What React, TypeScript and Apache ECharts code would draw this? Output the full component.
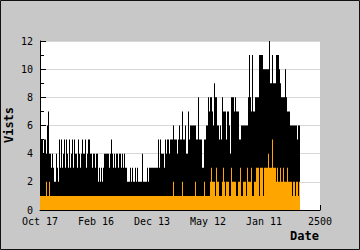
import React, { useEffect, useRef } from "react";
import * as echarts from "echarts";

// One value per 1-px bin of the x axis (bin 0 .. 259)
const totalVisits: number[] = [
  5,
  5, 5, 4, 5, 5, 4, 6, 7, 4, 4,
  3, 4, 3, 2, 2, 4, 3, 2, 5, 3,
  5, 3, 4, 5, 3, 5, 4, 3, 5, 3,
  4, 5, 3, 5, 4, 4, 3, 5, 4, 3,
  4, 5, 4, 4, 5, 3, 4, 5, 5, 4,
  4, 3, 4, 4, 3, 4, 4, 2, 3, 2,
  3, 2, 3, 4, 4, 4, 4, 4, 3, 4,
  5, 4, 3, 4, 3, 4, 4, 3, 4, 4,
  3, 4, 3, 4, 3, 3, 2, 2, 2, 3,
  2, 3, 2, 2, 3, 2, 3, 2, 2, 2,
  2, 4, 2, 2, 2, 2, 3, 2, 3, 3,
  3, 3, 3, 3, 3, 3, 3, 5, 3, 5,
  4, 4, 4, 3, 5, 4, 5, 5, 4, 5,
  5, 5, 6, 5, 5, 5, 4, 5, 6, 5,
  5, 7, 5, 5, 6, 4, 4, 7, 5, 6,
  6, 6, 6, 6, 6, 5, 5, 8, 5, 5,
  5, 3, 3, 5, 5, 6, 6, 8, 7, 8,
  8, 7, 6, 9, 8, 8, 6, 6, 5, 6,
  5, 8, 7, 7, 7, 5, 7, 7, 6, 4,
  8, 8, 8, 7, 8, 7, 7, 7, 5, 5,
  6, 6, 6, 6, 6, 6, 6, 8, 11, 8,
  7, 11, 7, 7, 8, 8, 8, 8, 11, 11,
  11, 11, 10, 10, 10, 10, 10, 10, 12, 9,
  9, 11, 9, 9, 9, 11, 11, 11, 10, 9,
  8, 8, 8, 8, 10, 8, 7, 7, 7, 6,
  6, 6, 6, 6, 6, 6, 5, 6, 6,
];

const orangeVisits: number[] = [
  1,
  1, 1, 1, 1, 1, 2, 1, 1, 2, 1,
  1, 1, 1, 1, 1, 1, 1, 1, 1, 1,
  1, 1, 1, 1, 1, 1, 1, 1, 1, 1,
  1, 1, 1, 1, 1, 1, 1, 1, 1, 1,
  1, 1, 1, 1, 1, 1, 1, 1, 1, 1,
  1, 1, 1, 1, 1, 1, 1, 1, 1, 1,
  1, 1, 1, 1, 1, 1, 1, 1, 1, 1,
  1, 1, 1, 1, 1, 1, 1, 1, 1, 1,
  1, 1, 1, 1, 1, 1, 1, 1, 1, 1,
  1, 1, 1, 1, 1, 1, 1, 1, 1, 1,
  1, 1, 1, 1, 1, 1, 1, 1, 1, 1,
  1, 1, 1, 1, 1, 1, 1, 1, 1, 1,
  1, 1, 1, 1, 1, 1, 1, 1, 1, 1,
  1, 1, 2, 1, 1, 1, 1, 1, 1, 1,
  1, 2, 1, 1, 1, 1, 1, 1, 1, 1,
  1, 1, 1, 1, 2, 1, 1, 1, 1, 1,
  1, 1, 1, 2, 1, 1, 1, 1, 1, 2,
  3, 2, 2, 2, 1, 3, 2, 2, 1, 1,
  1, 2, 3, 2, 1, 2, 2, 2, 1, 1,
  3, 2, 2, 2, 2, 1, 1, 2, 2, 3,
  1, 1, 2, 2, 2, 1, 3, 2, 2, 2,
  3, 1, 1, 2, 2, 3, 3, 3, 1, 3,
  3, 3, 1, 3, 3, 3, 3, 4, 3, 3,
  3, 5, 3, 3, 3, 2, 3, 2, 2, 3,
  2, 2, 3, 2, 2, 2, 3, 2, 2, 2,
  2, 1, 2, 2, 1, 2, 2, 1, 2,
];

const BIN_COUNT = 280;
const bins: string[] = Array.from({ length: BIN_COUNT }, (_, i) => String(i));

const xTickValues = [0, 500, 1000, 1500, 2000, 2500];
const xTickLabels = ["Oct 17", "Feb 16", "Dec 13", "May 12", "Jan 11", "2500"];

const FONT = "DejaVu Sans Mono";

export default function App() {
  const ref = useRef<HTMLDivElement>(null);

  useEffect(() => {
    if (!ref.current) return;
    const chart = echarts.init(ref.current, undefined, { renderer: "svg" });
    chart.setOption({
      animation: false,
      backgroundColor: "#c8c8c8",
      textStyle: { fontFamily: FONT },
      grid: {
        left: 40,
        top: 41,
        width: 280,
        height: 169,
        show: true,
        backgroundColor: "#ffffff",
        borderWidth: 0,
      },
      xAxis: [
        {
          type: "category",
          data: bins,
          show: false,
          boundaryGap: true,
        },
        {
          type: "value",
          min: 0,
          max: 2500,
          interval: 500,
          position: "bottom",
          axisLine: { show: true, onZero: false, lineStyle: { color: "#000", width: 1 } },
          axisTick: { show: true, inside: true, length: 5, lineStyle: { color: "#000" } },
          axisLabel: {
            color: "#000",
            fontSize: 10,
            fontFamily: FONT,
            margin: 6,
            formatter: (v: number) => {
              const i = xTickValues.indexOf(v);
              return i >= 0 ? xTickLabels[i] : "";
            },
          },
          splitLine: { show: false },
        },
      ],
      yAxis: {
        type: "value",
        min: 0,
        max: 12,
        interval: 2,
        axisLine: { show: true, lineStyle: { color: "#000", width: 1 } },
        axisTick: { show: true, inside: true, length: 6, lineStyle: { color: "#000" } },
        minorTick: { show: true, splitNumber: 2, length: 4, lineStyle: { color: "#000" } },
        axisLabel: { color: "#000", fontSize: 10, fontFamily: FONT, margin: 7 },
        splitLine: { show: true, lineStyle: { color: "#d8d8d8", width: 1 } },
      },
      series: [
        {
          name: "Visits",
          type: "bar",
          xAxisIndex: 0,
          yAxisIndex: 0,
          data: totalVisits,
          itemStyle: { color: "#000000" },
          barCategoryGap: "0%",
          barGap: "-100%",
        },
        {
          name: "Orange",
          type: "bar",
          xAxisIndex: 0,
          yAxisIndex: 0,
          data: orangeVisits,
          itemStyle: { color: "#ffa500" },
          barCategoryGap: "0%",
          barGap: "-100%",
        },
      ],
      graphic: [
        {
          type: "text",
          x: 9,
          y: 125,
          rotation: Math.PI / 2,
          z: 100,
          style: {
            text: "Vists",
            font: `bold 12px "${FONT}"`,
            fill: "#000",
            align: "center",
            verticalAlign: "middle",
          },
        },
        {
          type: "text",
          x: 319,
          y: 236,
          z: 100,
          style: {
            text: "Date",
            font: `bold 12px "${FONT}"`,
            fill: "#000",
            align: "right",
            verticalAlign: "middle",
          },
        },
        {
          type: "rect",
          z: 100,
          shape: { x: 0.5, y: 0.5, width: 359, height: 249 },
          style: { fill: "none", stroke: "#111", lineWidth: 1 },
        },
      ],
    });
    return () => chart.dispose();
  }, []);

  return (
    <div
      ref={ref}
      style={{ position: "fixed", left: 0, top: 0, width: 360, height: 250 }}
    />
  );
}
